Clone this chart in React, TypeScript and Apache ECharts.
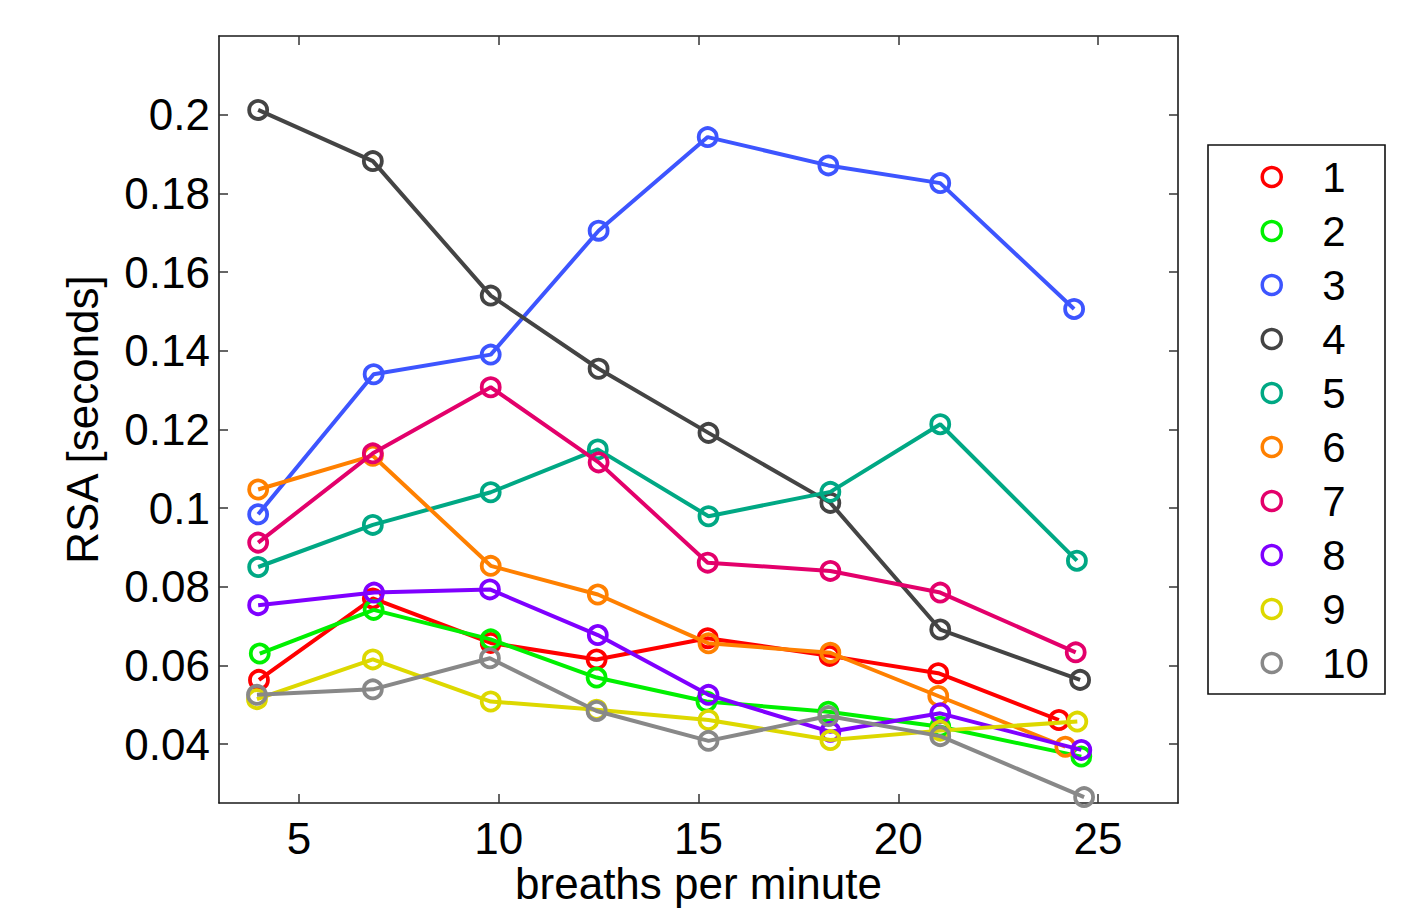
import React, { useEffect, useRef } from "react";
import * as echarts from "echarts";

const seriesNames = ["1", "2", "3", "4", "5", "6", "7", "8", "9", "10"];
const colors = ["#FF0000", "#00F000", "#3D55FF", "#444444", "#00A884", "#FF8000", "#E3006B", "#7F00FF", "#DDD800", "#888888"];

const x1 = [4.0, 6.85, 9.8, 12.45, 15.23, 18.28, 21.0, 24.02];
const x2 = [4.02, 6.87, 9.8, 12.45, 15.2, 18.25, 21.05, 24.58];
const x3 = [3.98, 6.87, 9.8, 12.5, 15.23, 18.25, 21.05, 24.4];
const x4 = [3.98, 6.85, 9.8, 12.5, 15.25, 18.3, 21.05, 24.55];
const x5 = [3.98, 6.85, 9.8, 12.48, 15.25, 18.3, 21.05, 24.47];
const x6 = [3.98, 6.85, 9.8, 12.48, 15.25, 18.3, 21.0, 24.18];
const x7 = [3.98, 6.85, 9.8, 12.5, 15.23, 18.3, 21.05, 24.44];
const x8 = [3.98, 6.88, 9.78, 12.48, 15.25, 18.3, 21.05, 24.58];
const x9 = [3.95, 6.85, 9.8, 12.45, 15.25, 18.3, 21.05, 24.48];
const x10 = [3.95, 6.85, 9.78, 12.45, 15.25, 18.25, 21.05, 24.65];

const y1 = [0.0563, 0.077, 0.0657, 0.0615, 0.0669, 0.0624, 0.058, 0.0461];
const y2 = [0.063, 0.0741, 0.0666, 0.0569, 0.0508, 0.0482, 0.0444, 0.0368];
const y3 = [0.0984, 0.134, 0.139, 0.1705, 0.1943, 0.1871, 0.1826, 0.1506];
const y4 = [0.2012, 0.1882, 0.154, 0.1354, 0.1191, 0.1013, 0.0691, 0.0563];
const y5 = [0.085, 0.0957, 0.104, 0.1149, 0.0979, 0.1041, 0.1213, 0.0866];
const y6 = [0.1047, 0.1133, 0.0853, 0.078, 0.0656, 0.0632, 0.0522, 0.0393];
const y7 = [0.0912, 0.1139, 0.1307, 0.1116, 0.0861, 0.084, 0.0785, 0.0633];
const y8 = [0.0753, 0.0785, 0.0793, 0.0677, 0.0525, 0.0431, 0.0478, 0.0385];
const y9 = [0.0514, 0.0615, 0.0508, 0.0487, 0.0461, 0.041, 0.0434, 0.0457];
const y10 = [0.0525, 0.0539, 0.0618, 0.0484, 0.0408, 0.0471, 0.042, 0.0265];

const xTicks = [5, 10, 15, 20, 25];
const yTicks = [0.04, 0.06, 0.08, 0.1, 0.12, 0.14, 0.16, 0.18, 0.2];

const xs = [x1, x2, x3, x4, x5, x6, x7, x8, x9, x10];
const ys = [y1, y2, y3, y4, y5, y6, y7, y8, y9, y10];

const FONT = "'Liberation Sans', Arial, Helvetica, sans-serif";
const FS = 44;

export default function App() {
  const ref = useRef<HTMLDivElement>(null);
  useEffect(() => {
    if (!ref.current) return;
    const chart = echarts.init(ref.current, undefined, { renderer: "svg" });
    const axisLine = { show: true, onZero: false, lineStyle: { color: "#1a1a1a", width: 1.6 } };
    const tickStyle = { color: "#333", width: 1.5 };
    const option: any = {
      animation: false,
      backgroundColor: "#ffffff",
      textStyle: { fontFamily: FONT },
      grid: { left: 219, top: 36, right: 234, bottom: 107, containLabel: false, outerBoundsMode: "none" },
      xAxis: [
        {
          type: "value",
          min: 3,
          max: 27,
          position: "bottom",
          name: "breaths per minute",
          nameLocation: "middle",
          nameMoveOverlap: false,
          nameGap: 57,
          nameTextStyle: { fontSize: FS, lineHeight: 46, color: "#000", fontFamily: FONT },
          axisLine,
          axisTick: { show: true, inside: true, length: 9, lineStyle: tickStyle, customValues: xTicks },
          axisLabel: { show: true, margin: 13, fontSize: FS, color: "#000", fontFamily: FONT, customValues: xTicks },
          splitLine: { show: false },
        },
        {
          type: "value",
          min: 3,
          max: 27,
          position: "top",
          axisLine,
          axisTick: { show: true, inside: true, length: 9, lineStyle: tickStyle, customValues: xTicks },
          axisLabel: { show: false },
          splitLine: { show: false },
        },
      ],
      yAxis: [
        {
          type: "value",
          min: 0.025,
          max: 0.22,
          position: "left",
          name: "RSA [seconds]",
          nameLocation: "middle",
          nameGap: 115,
          nameTextStyle: { fontSize: FS, color: "#000", fontFamily: FONT },
          axisLine,
          axisTick: { show: true, inside: true, length: 9, lineStyle: tickStyle, customValues: yTicks },
          axisLabel: { show: true, margin: 9, fontSize: FS, color: "#000", fontFamily: FONT, customValues: yTicks },
          splitLine: { show: false },
        },
        {
          type: "value",
          min: 0.025,
          max: 0.22,
          position: "right",
          axisLine,
          axisTick: { show: true, inside: true, length: 9, lineStyle: tickStyle, customValues: yTicks },
          axisLabel: { show: false },
          splitLine: { show: false },
        },
      ],
      legend: {
        orient: "vertical",
        left: 1255.5,
        top: 145,
        itemWidth: 19,
        itemHeight: 19,
        itemGap: 0,
        icon: "circle",
        textStyle: { fontSize: FS - 2, lineHeight: 54, color: "#000", fontFamily: FONT, padding: [0, 0, 0, 36] },
        data: seriesNames.map((n, i) => ({
          name: n,
          itemStyle: { color: "rgba(0,0,0,0)", borderColor: colors[i], borderWidth: 3.5 },
        })),
      },
      graphic: [
        {
          type: "rect",
          shape: { x: 1208, y: 145, width: 177, height: 549 },
          style: { fill: "#fff", stroke: "#111", lineWidth: 1.6 },
          z: -1,
          silent: true,
        },
      ],
      series: seriesNames.map((n, i) => ({
        name: n,
        type: "line",
        xAxisIndex: 0,
        yAxisIndex: 0,
        data: xs[i].map((xv, j) => [xv, ys[i][j]]),
        symbol: "circle",
        symbolSize: 18,
        showSymbol: true,
        lineStyle: { color: colors[i], width: 4 },
        itemStyle: { color: "rgba(0,0,0,0)", borderColor: colors[i], borderWidth: 3.8 },
        emphasis: { disabled: true },
        z: 2 + i * 0.01,
      })),
    };
    chart.setOption(option);
    return () => chart.dispose();
  }, []);
  return (
    <div
      ref={ref}
      style={{ position: "fixed", left: 0, top: 0, width: 1412, height: 910, background: "#fff" }}
    />
  );
}
